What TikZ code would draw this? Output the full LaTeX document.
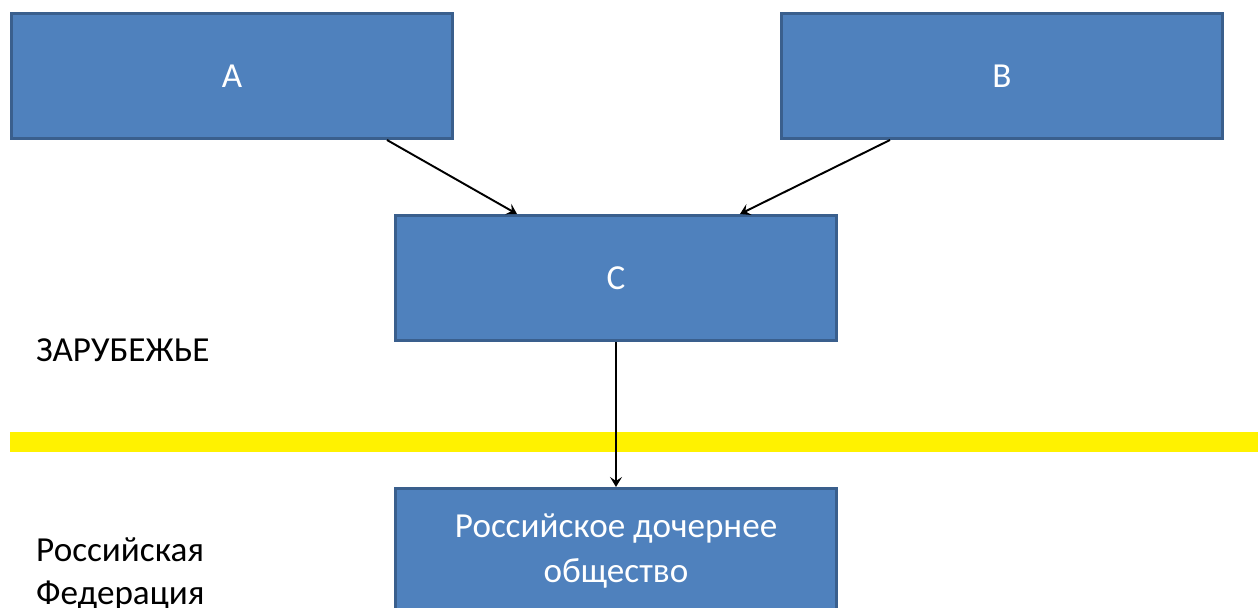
\documentclass[tikz,border=0pt]{standalone}
\usepackage{fontspec}
\setmainfont{Carlito}
\usepackage{xcolor}
\usetikzlibrary{arrows,arrows.meta,positioning}

\definecolor{boxfill}{HTML}{4F81BD}
\definecolor{boxline}{HTML}{3A5F8D}

\begin{document}
\begin{tikzpicture}[x=0.02cm,y=-0.02cm,
        firm/.style={draw=boxline, fill=boxfill, line width=0.06cm,
                     text=white, align=center, font=\fontsize{20}{25.5}\selectfont,
                     minimum width=8.84cm, minimum height=2.5cm, inner sep=0pt},
        link/.style={-{Stealth[length=0.2cm,width=0.24cm,inset=0.08cm]}, line width=1.1pt, black}]
                \useasboundingbox (0,0) rectangle (1258,608);
                \clip (0,0) rectangle (1258,608);

                % border between the two zones
                \fill[yellow] (10,432) rectangle (1258,452);

                \node [firm] (A) at (232,76) {A};
                \node [firm] (B) at (1002,76) {B};
                \node [firm] (C) at (616,278) {C};
                \node [firm, below = 2.9cm of C] (sub) {Российское дочернее\\общество};

                \node [anchor=west, font=\fontsize{20}{25}\selectfont]
                                        (abroad) at (30,350) {ЗАРУБЕЖЬЕ};
                \node [anchor=west, align=left, font=\fontsize{20}{24.5}\selectfont]
                                        (rf) at (30,574) {Российская\\Федерация};

                \draw[link] ([xshift=3.1cm]A.south) -- ([xshift=-1.98cm]C.north);
                \draw[link] ([xshift=-2.24cm]B.south) -- ([xshift=2.48cm]C.north);
                \draw[link] (C) -- (sub);
            \end{tikzpicture}
\end{document}
